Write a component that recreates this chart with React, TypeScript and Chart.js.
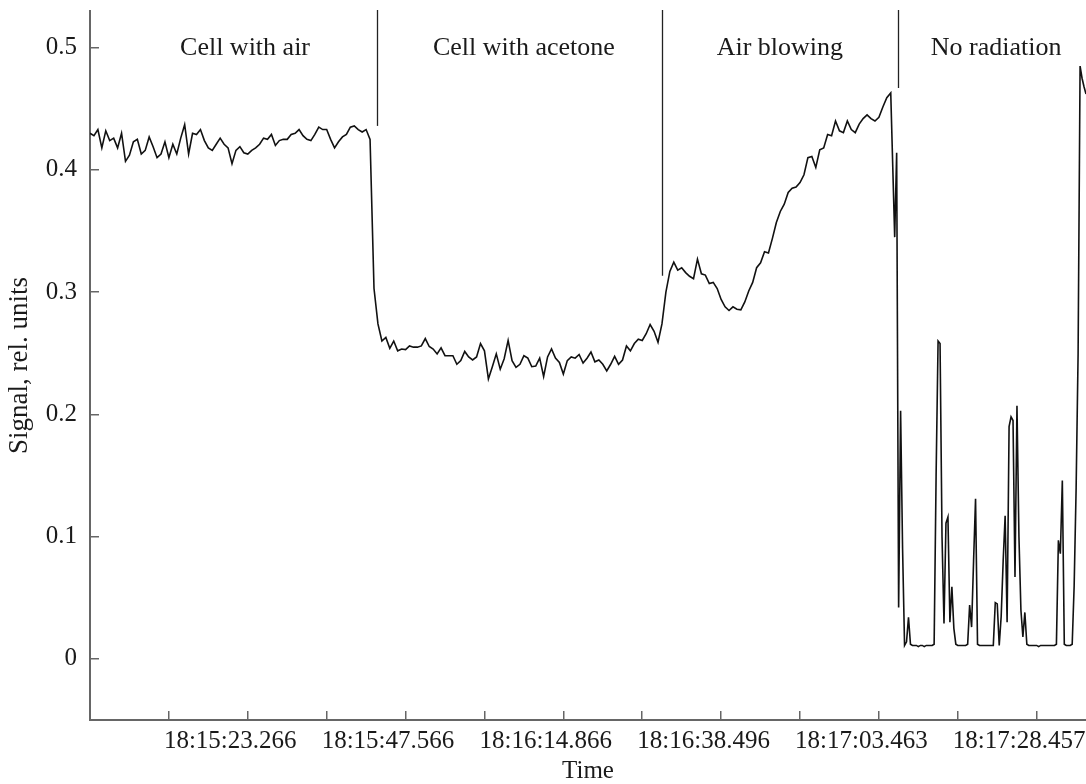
import React, { useEffect, useRef } from 'react';
import { Chart, registerables } from 'chart.js';

Chart.register(...registerables);

// Sample index (x) of the first slow-rate value is 0, one sample per index step.
const signalMain: number[] = [
  0.430, 0.428, 0.433, 0.418, 0.432, 0.424, 0.426, 0.418, 0.430, 0.407,
  0.412, 0.423, 0.425, 0.413, 0.416, 0.427, 0.419, 0.410, 0.413, 0.423,
  0.410, 0.421, 0.413, 0.426, 0.437, 0.413, 0.430, 0.429, 0.433, 0.424,
  0.418, 0.416, 0.421, 0.426, 0.421, 0.418, 0.405, 0.416, 0.419, 0.414,
  0.413, 0.416, 0.418, 0.421, 0.426, 0.425, 0.429, 0.420, 0.424, 0.425,
  0.425, 0.429, 0.430, 0.433, 0.428, 0.425, 0.424, 0.429, 0.435, 0.433,
  0.433, 0.425, 0.418, 0.423, 0.427, 0.429, 0.435, 0.436, 0.433, 0.431,
  0.433, 0.425, 0.303, 0.274, 0.260, 0.263, 0.254, 0.260, 0.252, 0.2535,
  0.253, 0.256, 0.255, 0.255, 0.256, 0.262, 0.2555, 0.2535, 0.2495, 0.2545,
  0.248, 0.248, 0.248, 0.241, 0.244, 0.2515, 0.247, 0.2445, 0.247, 0.258,
  0.252, 0.229, 0.239, 0.2495, 0.237, 0.2455, 0.2605, 0.244, 0.2385, 0.241,
  0.248, 0.246, 0.239, 0.2395, 0.246, 0.231, 0.247, 0.2535, 0.246, 0.2425,
  0.233, 0.244, 0.247, 0.246, 0.249, 0.242, 0.246, 0.251, 0.243, 0.2445,
  0.241, 0.2355, 0.241, 0.2475, 0.241, 0.2445, 0.256, 0.252, 0.258, 0.2615,
  0.2605, 0.266, 0.2735, 0.268, 0.259, 0.274, 0.300, 0.317, 0.3245, 0.318,
  0.320, 0.316, 0.313, 0.311, 0.327, 0.315, 0.314, 0.307, 0.308, 0.303,
  0.294, 0.288, 0.285, 0.288, 0.286, 0.2855, 0.292, 0.301, 0.308, 0.320,
  0.324, 0.333, 0.332, 0.344, 0.357, 0.366, 0.372, 0.3815, 0.385, 0.386,
  0.3897, 0.396, 0.410, 0.411, 0.402, 0.4165, 0.418, 0.429, 0.428, 0.440,
  0.432, 0.4305, 0.440, 0.433, 0.4305, 0.4375, 0.442, 0.445, 0.442, 0.440,
  0.443, 0.4515, 0.459, 0.463,
];

// Fast-rate part ("No radiation"): starts at sample 204, half-sample spacing.
const fastStart = 204;
const fastStep = 0.5;
const signalFast: number[] = [
  0.345, 0.414, 0.042, 0.203, 0.090, 0.011, 0.014, 0.034, 0.012, 0.011,
  0.011, 0.011, 0.010, 0.011, 0.011, 0.010, 0.011, 0.011, 0.011, 0.011,
  0.012, 0.150, 0.260, 0.258, 0.100, 0.029, 0.111, 0.116, 0.030, 0.059,
  0.025, 0.012, 0.011, 0.011, 0.011, 0.011, 0.011, 0.012, 0.044, 0.026,
  0.080, 0.131, 0.012, 0.011, 0.011, 0.011, 0.011, 0.011, 0.011, 0.011,
  0.011, 0.046, 0.045, 0.011, 0.035, 0.080, 0.117, 0.030, 0.190, 0.198,
  0.195, 0.067, 0.207, 0.100, 0.040, 0.018, 0.038, 0.012, 0.011, 0.011,
  0.011, 0.011, 0.011, 0.010, 0.011, 0.011, 0.011, 0.011, 0.011, 0.011,
  0.011, 0.011, 0.012, 0.097, 0.086, 0.146, 0.012, 0.011, 0.011, 0.011,
  0.012, 0.060, 0.140, 0.250, 0.485, 0.475, 0.468, 0.462,
];

const xMin = 0;
const xMax = 252.5;
const xTickValues = [20, 40, 60, 80, 100, 120, 140, 160, 180, 200, 220, 240];
const xTickLabels = [
  '18:15:23.266', '', '18:15:47.566', '', '18:16:14.866', '',
  '18:16:38.496', '', '18:17:03.463', '', '18:17:28.457', '',
];
const yMin = -0.05;
const yMax = 0.53;
const yTickValues = [0, 0.1, 0.2, 0.3, 0.4, 0.5];
const yTickLabels = ['0', '0.1', '0.2', '0.3', '0.4', '0.5'];

const phaseNames = ['Cell with air', 'Cell with acetone', 'Air blowing', 'No radiation'];
const phaseCenters = [39.3, 110, 174.9, 229.7];
const phaseTextLevel = 0.5;
const boundaryX = [72.7, 145.1, 204.9];
const boundaryLow = [0.436, 0.3135, 0.467];

const FONT = '"Liberation Serif", "Times New Roman", serif';
const TEXT = '#1a1a1a';
const AXIS = '#666666';

const phasePlugin = {
  id: 'phases',
  afterDatasetsDraw(chart: any) {
    const { ctx, chartArea } = chart;
    const x = chart.scales.x;
    const y = chart.scales.y;
    ctx.save();
    ctx.strokeStyle = '#222222';
    ctx.lineWidth = 1.3;
    boundaryX.forEach((bx, k) => {
      const px = Math.round(x.getPixelForValue(bx)) + 0.5;
      ctx.beginPath();
      ctx.moveTo(px, chartArea.top - 1);
      ctx.lineTo(px, y.getPixelForValue(boundaryLow[k]));
      ctx.stroke();
    });
    ctx.fillStyle = TEXT;
    ctx.font = `26px ${FONT}`;
    ctx.textAlign = 'center';
    ctx.textBaseline = 'middle';
    phaseNames.forEach((name, k) => {
      ctx.fillText(name, x.getPixelForValue(phaseCenters[k]), y.getPixelForValue(phaseTextLevel));
    });
    ctx.restore();
  },
};

export default function App() {
  const canvasRef = useRef<HTMLCanvasElement | null>(null);

  useEffect(() => {
    const canvas = canvasRef.current;
    if (!canvas) return;
    const points = [
      ...signalMain.map((v, i) => ({ x: i, y: v })),
      ...signalFast.map((v, j) => ({ x: fastStart + j * fastStep, y: v })),
    ];
    const chart = new Chart(canvas, {
      type: 'line',
      data: {
        datasets: [
          {
            data: points,
            borderColor: '#111111',
            borderWidth: 1.6,
            pointRadius: 0,
            tension: 0,
            fill: false,
          },
        ],
      },
      options: {
        responsive: false,
        maintainAspectRatio: false,
        animation: false,
        layout: { padding: { top: 11, left: 0, right: 0, bottom: 0 } },
        plugins: { legend: { display: false }, tooltip: { enabled: false } },
        scales: {
          x: {
            type: 'linear',
            min: xMin,
            max: xMax,
            afterBuildTicks: (s: any) => {
              s.ticks = xTickValues.map((v) => ({ value: v }));
            },
            afterFit: (s: any) => {
              s.height = 64;
              s.paddingLeft = 0;
              s.paddingRight = 0;
            },
            grid: { drawOnChartArea: false, drawTicks: true, tickLength: -9, color: AXIS, lineWidth: 1.5 },
            border: { display: true, color: AXIS, width: 2 },
            ticks: {
              autoSkip: false,
              maxRotation: 0,
              minRotation: 0,
              align: 'start',
              labelOffset: -5,
              padding: 15,
              color: TEXT,
              font: { family: FONT, size: 25 },
              callback: (v: any) => {
                const k = xTickValues.findIndex((t) => Math.abs(t - Number(v)) < 1e-6);
                return k >= 0 ? xTickLabels[k] : '';
              },
            },
            title: {
              display: true,
              text: 'Time',
              color: TEXT,
              font: { family: FONT, size: 25, lineHeight: 1 },
              padding: { top: 0, bottom: 0 },
            },
          },
          y: {
            type: 'linear',
            min: yMin,
            max: yMax,
            afterBuildTicks: (s: any) => {
              s.ticks = yTickValues.map((v) => ({ value: v }));
            },
            afterFit: (s: any) => {
              s.width = 90;
              s.paddingTop = 0;
              s.paddingBottom = 0;
            },
            grid: { drawOnChartArea: false, drawTicks: true, tickLength: -9, color: AXIS, lineWidth: 1.5 },
            border: { display: true, color: AXIS, width: 2 },
            ticks: {
              padding: 22,
              color: TEXT,
              font: { family: FONT, size: 25 },
              callback: (v: any) => {
                const k = yTickValues.findIndex((t) => Math.abs(t - Number(v)) < 1e-6);
                return k >= 0 ? yTickLabels[k] : '';
              },
            },
            title: {
              display: true,
              text: 'Signal, rel. units',
              color: TEXT,
              font: { family: FONT, size: 27 },
              padding: { top: 4, bottom: 0 },
            },
          },
        },
      } as any,
      plugins: [phasePlugin],
    });
    return () => chart.destroy();
  }, []);

  return (
    <div style={{ position: 'fixed', left: 0, top: 0, width: 1086, height: 784, background: '#ffffff' }}>
      <canvas ref={canvasRef} width={1086} height={784} style={{ display: 'block' }} />
    </div>
  );
}
